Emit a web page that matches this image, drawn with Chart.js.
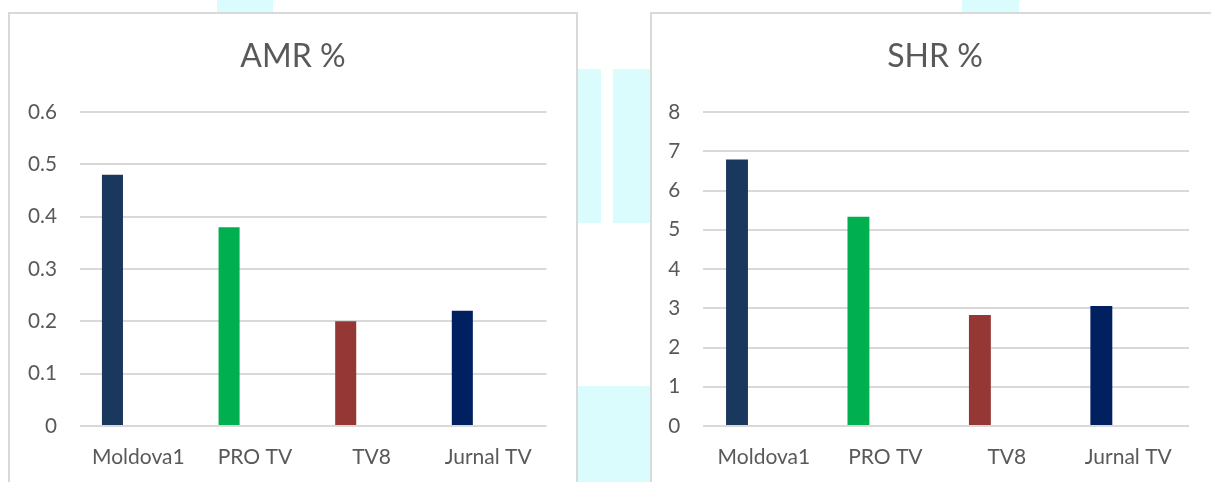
<!DOCTYPE html>
<html>
<head>
<meta charset="utf-8">
<script src="https://cdn.jsdelivr.net/npm/chart.js@4.4.1/dist/chart.umd.min.js"></script>
<style>
  html, body { margin: 0; padding: 0; background: #fff; }
  body { width: 1211px; height: 482px; position: relative; overflow: hidden; }
  .tint { position: absolute; background: #dafcfc; }
  .box {
    position: absolute; top: 12px; width: 570px; height: 500px;
    box-sizing: border-box; border: 2px solid #d9d9d9; background: #fff;
  }
  .box canvas { position: absolute; left: 0; top: 0; }
</style>
</head>
<body>
<div class="tint" style="left:217px;top:0;width:56px;height:13px"></div>
<div class="tint" style="left:962px;top:0;width:57px;height:13px"></div>
<div class="tint" style="left:577px;top:69px;width:24px;height:154px"></div>
<div class="tint" style="left:613px;top:69px;width:38px;height:154px"></div>
<div class="tint" style="left:577px;top:386px;width:74px;height:96px"></div>

<div class="box" style="left:8px"><canvas id="amrChart" width="566" height="476"></canvas></div>
<div class="box" style="left:650px"><canvas id="shrChart" width="566" height="476"></canvas></div>

<script>
const CHANNELS = ["Moldova1", "PRO TV", "TV8", "Jurnal TV"];
const AMR_VALUES = [0.48, 0.38, 0.2, 0.22];
const SHR_VALUES = [6.79, 5.33, 2.83, 3.06];
// empty second series, keeps the bars off-center like the original
const EMPTY_SERIES = [null, null, null, null];

const BAR_COLORS = ["#1a375d", "#00b050", "#953735", "#002060"];
const TEXT = "#595959";
const GRID = "#d9d9d9";
const FONT = "Lato, 'Open Sans', sans-serif";

function makeChart(canvasId, title, values, max, step, axisWidth, rightGap) {
  const canvas = document.getElementById(canvasId);
  return new Chart(canvas, {
    type: "bar",
    data: {
      labels: CHANNELS,
      datasets: [
        { data: values, backgroundColor: BAR_COLORS, borderWidth: 0 },
        { data: EMPTY_SERIES, backgroundColor: "transparent", borderWidth: 0 },
      ],
    },
    options: {
      responsive: false,
      devicePixelRatio: 1,
      animation: false,
      categoryPercentage: 0.887,
      barPercentage: 0.407,
      layout: { padding: { top: 0, right: 0, bottom: 1.2, left: 0 } },
      plugins: {
        legend: { display: false },
        tooltip: { enabled: false },
        title: {
          display: true,
          text: title,
          color: TEXT,
          font: { family: FONT, size: 32, weight: "normal", lineHeight: 1.2 },
          padding: { top: 23.5, bottom: 36.1 },
        },
      },
      scales: {
        x: {
          grid: { display: false, drawTicks: false },
          border: { display: false },
          ticks: { color: TEXT, font: { family: FONT, size: 21 }, padding: 18.8, maxRotation: 0 },
        },
        y: {
          min: 0,
          max: max,
          grid: { color: GRID, lineWidth: 2, drawTicks: false },
          border: { display: false },
          ticks: {
            stepSize: step,
            color: TEXT,
            padding: 23,
            font: { family: FONT, size: 20.7 },
            callback: (v) => String(Number(v.toFixed(1))),
          },
          afterFit: (axis) => { axis.width = axisWidth; },
        },
        // blank right-hand axis, only reserves the empty strip after the plot
        gap: {
          type: "linear",
          position: "right",
          grid: { display: false, drawTicks: false },
          border: { display: false },
          ticks: { display: false },
          afterFit: (axis) => { axis.width = rightGap; },
        },
      },
    },
  });
}

makeChart("amrChart", "AMR %", AMR_VALUES, 0.6, 0.1, 70, 29.5);
makeChart("shrChart", "SHR %", SHR_VALUES, 8, 1, 51.2, 29);
</script>
</body>
</html>
